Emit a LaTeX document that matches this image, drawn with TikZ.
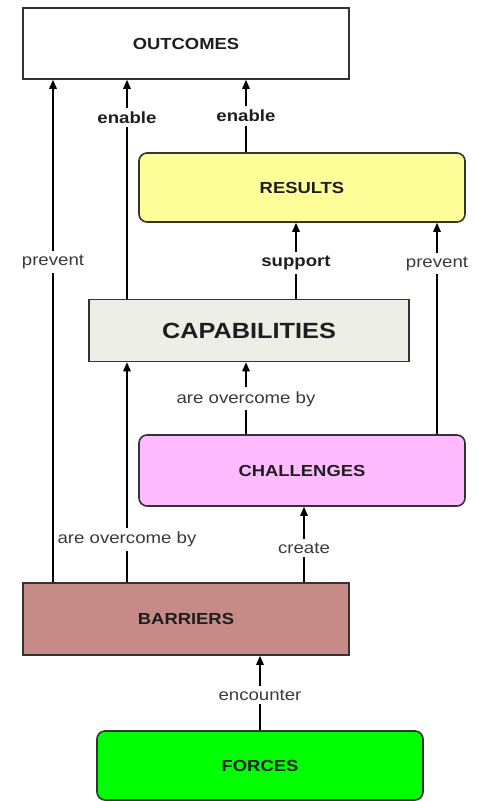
\documentclass[tikz,border=0pt]{standalone}
\usepackage{fontspec}
\setmainfont{Liberation Sans}[FakeStretch=1.15]
\usetikzlibrary{arrows.meta}

\definecolor{edge}{HTML}{333333}
\definecolor{txt}{HTML}{1E1E1E}
\definecolor{lbltxt}{HTML}{3A3A3A}
\definecolor{resultfill}{HTML}{FFFF99}
\definecolor{capfill}{HTML}{EDEEE6}
\definecolor{challfill}{HTML}{FFBBFF}
\definecolor{barrfill}{HTML}{C68A87}
\definecolor{forcefill}{HTML}{00FF00}

\tikzset{
  box/.style={draw=edge, line width=1.6pt, minimum width=326pt, inner sep=0pt,
    text=txt, font=\fontsize{16}{18}\selectfont\bfseries},
  roundbox/.style={box, rounded corners=8pt},
  conn/.style={draw=black, line width=1.5pt, -{Triangle[length=9pt,width=7.5pt]}},
  lbl/.style={fill=white, text=lbltxt, inner xsep=1pt, inner ysep=4pt,
    font=\fontsize{16.2}{18}\selectfont},
  lowlbl/.style={lbl, yshift=-2pt},
  blbl/.style={lbl, text=txt, font=\fontsize{16.2}{18}\selectfont\bfseries}
}

\begin{document}
\begin{tikzpicture}[x=1pt,y=-1pt]
  \useasboundingbox[fill=white] (0,0) rectangle (479,801);

  % concept boxes
  \node[box, minimum height=71pt, fill=white] (outcomes) at (186,43.5) {OUTCOMES};
  \node[roundbox, minimum height=69pt, fill=resultfill] (results) at (302,187.5) {RESULTS};
  \node[box, minimum width=320pt, minimum height=62pt, fill=capfill,
        font=\fontsize{22}{24}\selectfont\bfseries] (capabilities) at (249,330.5) {CAPABILITIES};
  \node[roundbox, minimum height=71pt, fill=challfill] (challenges) at (302,470.5) {CHALLENGES};
  \node[box, minimum height=72pt, fill=barrfill] (barriers) at (186,619) {BARRIERS};
  \node[roundbox, minimum height=69pt, fill=forcefill] (forces) at (260,765.5) {FORCES};

  % relations
  \draw[conn] ([xshift=-59pt]barriers.north) coordinate (s7)
    -- node[lowlbl, pos=0.204]{are overcome by} (s7 |- capabilities.south);
  \draw[conn] ([xshift=-133pt]barriers.north) coordinate (s1)
    -- node[lowlbl, pos=0.641]{prevent} (s1 |- outcomes.south);
  \draw[conn] ([xshift=-122pt]capabilities.north) coordinate (s2)
    -- node[blbl, pos=0.828]{enable} (s2 |- outcomes.south);
  \draw[conn] ([xshift=-56pt]results.north) coordinate (s3)
    -- node[blbl, pos=0.5]{enable} (s3 |- outcomes.south);
  \draw[conn] ([xshift=47pt]capabilities.north) coordinate (s4)
    -- node[blbl, pos=0.5, yshift=-2pt]{support} (s4 |- results.south);
  \draw[conn] ([xshift=135pt]challenges.north) coordinate (s5)
    -- node[lowlbl, pos=0.817]{prevent} (s5 |- results.south);
  \draw[conn] ([xshift=-56pt]challenges.north) coordinate (s6)
    -- node[lowlbl, pos=0.52]{are overcome by} (s6 |- capabilities.south);
  \draw[conn] ([xshift=118pt]barriers.north) coordinate (s8)
    -- node[lowlbl, pos=0.48]{create} (s8 |- challenges.south);
  \draw[conn] (forces.north) coordinate (s9)
    -- node[lowlbl, pos=0.5]{encounter} (s9 |- barriers.south);
\end{tikzpicture}
\end{document}
